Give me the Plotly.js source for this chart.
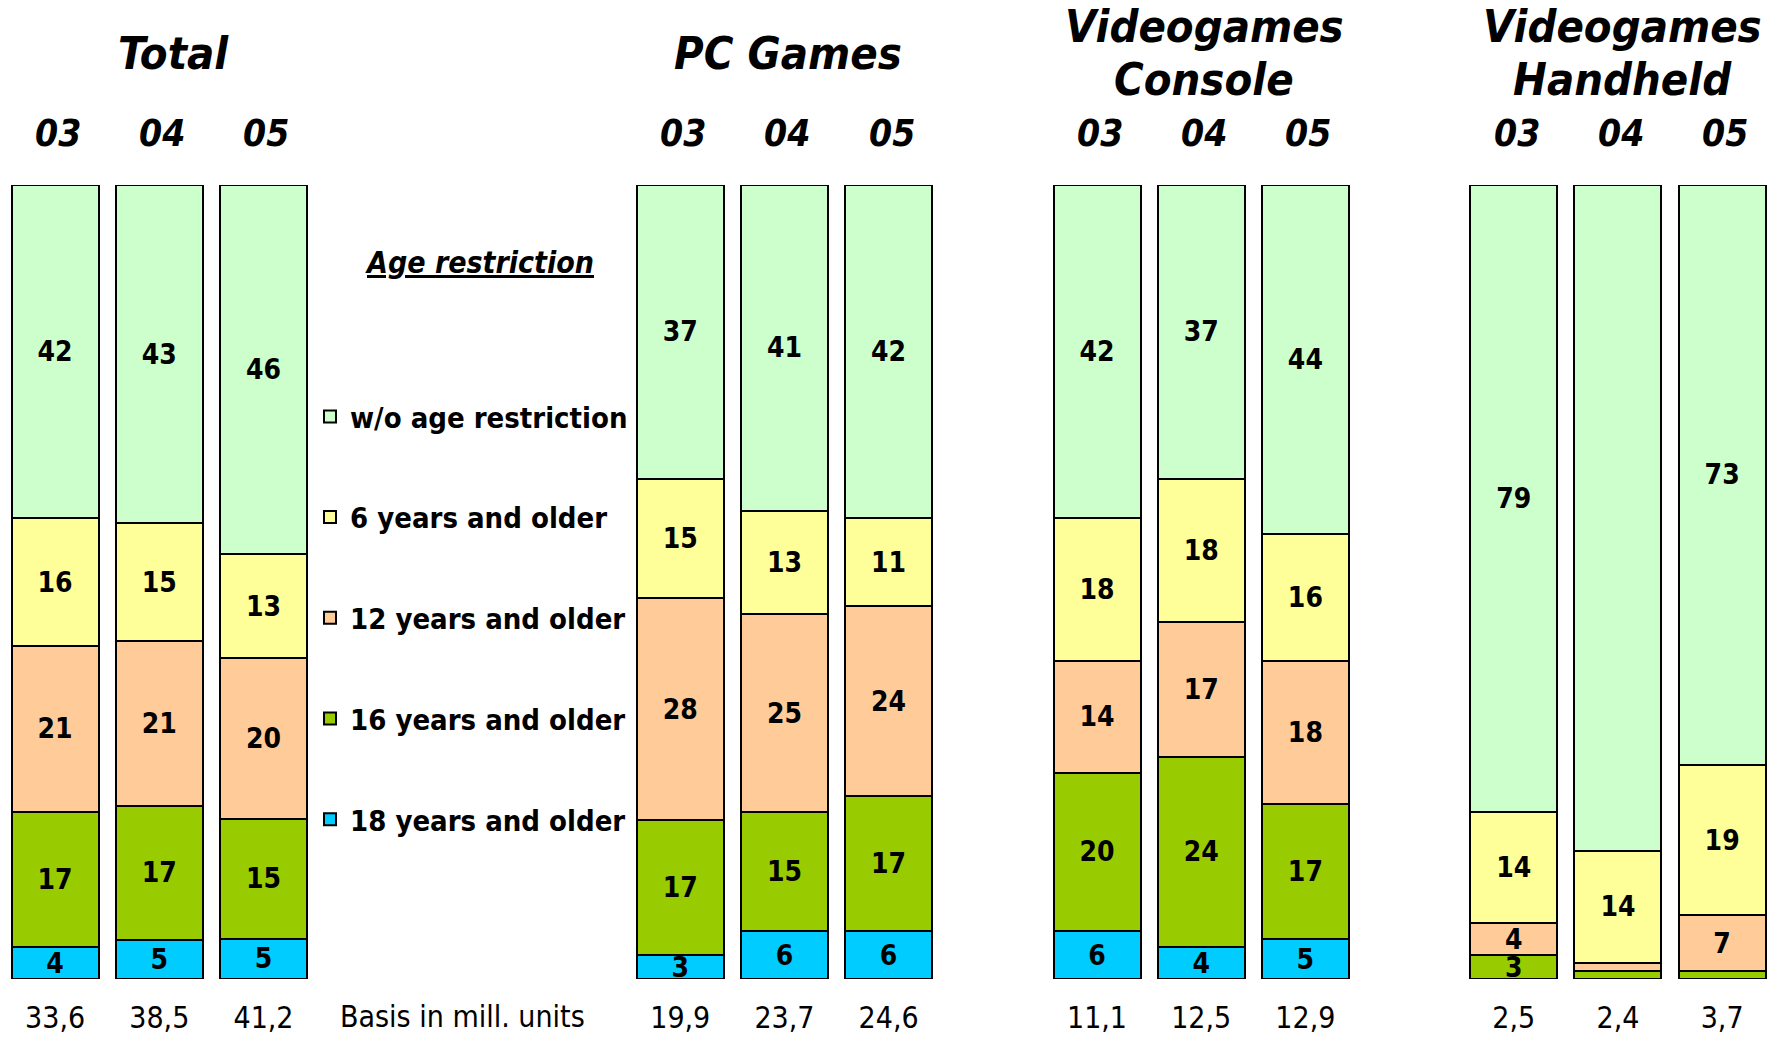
<!DOCTYPE html>
<html>
<head>
<meta charset="utf-8">
<script src="https://cdn.plot.ly/plotly-3.0.1.min.js"></script>
<style>
  html, body { margin: 0; padding: 0; background: #ffffff; }
  #chart { width: 1781px; height: 1037px; }
</style>
</head>
<body>
<div id="chart"></div>
<script>
// ---- data ----
const groups = ["Total", "PC Games", "Videogames<br>Console", "Videogames<br>Handheld"];
const years = ["03", "04", "05"];
const seriesNames = ["18 years and older", "16 years and older", "12 years and older", "6 years and older", "w/o age restriction"];
// order within each series: Total 03,04,05 | PC 03,04,05 | Console 03,04,05 | Handheld 03,04,05
const age18 = [4, 5, 5, 3, 6, 6, 6, 4, 5, 0, 0, 0];
const age16 = [17, 17, 15, 17, 15, 17, 20, 24, 17, 3, 1, 1];
const age12 = [21, 21, 20, 28, 25, 24, 14, 17, 18, 4, 1, 7];
const age6 = [16, 15, 13, 15, 13, 11, 18, 18, 16, 14, 14, 19];
const noRestriction = [42, 43, 46, 37, 41, 42, 42, 37, 44, 79, 83, 73];
const basis = ["33,6", "38,5", "41,2", "19,9", "23,7", "24,6", "11,1", "12,5", "12,9", "2,5", "2,4", "3,7"];
const legendTitle = "Age restriction";
const basisLabel = "Basis in mill. units";

// ---- styling / layout ----
const seriesValues = [age18, age16, age12, age6, noRestriction];
const colors = ["#00CCFF", "#99CC00", "#FFCC99", "#FFFF99", "#CCFFCC"];
const groupStart = [0, 6, 10, 14];
const titleShift = [14, 4, 3, 5];
const FONT = "DejaVu Sans Condensed, DejaVu Sans, sans-serif";

const xPos = [];
groupStart.forEach(g => years.forEach((y, j) => xPos.push(g + j)));

const traces = seriesValues.map((vals, i) => ({
  type: "bar",
  name: seriesNames[i],
  legendgroup: "g" + i,
  legendrank: (seriesValues.length - i) * 10,
  x: xPos,
  y: vals,
  width: 0.835,
  marker: { color: colors[i], line: { color: "#000000", width: 2 } },
  text: vals.map(v => v >= 2 ? String(v) : ""),
  texttemplate: "%{text}",
  textposition: "inside",
  insidetextanchor: "middle",
  textangle: 0,
  constraintext: "none",
  textfont: { family: FONT, size: 28, color: "#000000", weight: "bold" },
  hoverinfo: "skip",
  cliponaxis: false
}));

const annotations = [];
const LINE = 53.4;
// group titles
groupStart.forEach((g, gi) => {
  const lines = groups[gi].split("<br>");
  lines.forEach((ln, li) => {
    annotations.push({
      xref: "x", yref: "paper", x: g + 1, y: 1,
      xshift: titleShift[gi],
      yshift: 132 + ((lines.length - 1) / 2 - li) * LINE,
      xanchor: "center", yanchor: "middle", showarrow: false,
      text: "<b><i>" + ln + "</i></b>",
      font: { family: FONT, size: 45, color: "#000000" }
    });
  });
  years.forEach((yr, j) => {
    annotations.push({
      xref: "x", yref: "paper", x: g + j, y: 1, yshift: 52, xshift: 3,
      xanchor: "center", yanchor: "middle", showarrow: false,
      text: "<b><i>" + yr + "</i></b>",
      font: { family: FONT, size: 37, color: "#000000" }
    });
  });
});
annotations.push({
  xref: "paper", yref: "paper", x: 479 / 1781, y: 1, yshift: -77,
  xanchor: "center", yanchor: "middle", showarrow: false,
  text: "<u><b><i>" + legendTitle + "</i></b></u>",
  font: { family: FONT, size: 30, color: "#000000" }
});
annotations.push({
  xref: "paper", yref: "paper", x: 462 / 1781, y: 0, yshift: -37,
  xanchor: "center", yanchor: "middle", showarrow: false,
  text: basisLabel,
  font: { family: FONT, size: 30, color: "#000000" }
});

const layout = {
  width: 1781, height: 1037,
  margin: { l: 0, r: 0, t: 185, b: 58 },
  paper_bgcolor: "#ffffff", plot_bgcolor: "#ffffff",
  barmode: "stack",
  barnorm: "percent",
  showlegend: true,
  legend: {
    x: 310 / 1781, xanchor: "left",
    y: 0.7405, yanchor: "top",
    traceorder: "grouped",
    tracegroupgap: 60,
    font: { family: FONT, size: 29, color: "#000000", weight: "bold" },
    bgcolor: "rgba(0,0,0,0)", borderwidth: 0
  },
  xaxis: {
    range: [-0.529, 16.565],
    tickvals: xPos, ticktext: basis,
    ticks: "outside", ticklen: 12, tickcolor: "rgba(0,0,0,0)",
    tickfont: { family: FONT, size: 30, color: "#000000" },
    showgrid: false, zeroline: false, showline: false, fixedrange: true
  },
  yaxis: { range: [0, 100], visible: false, fixedrange: true },
  annotations: annotations
};

Plotly.newPlot("chart", traces, layout, { displayModeBar: false, staticPlot: true });
</script>
</body>
</html>
